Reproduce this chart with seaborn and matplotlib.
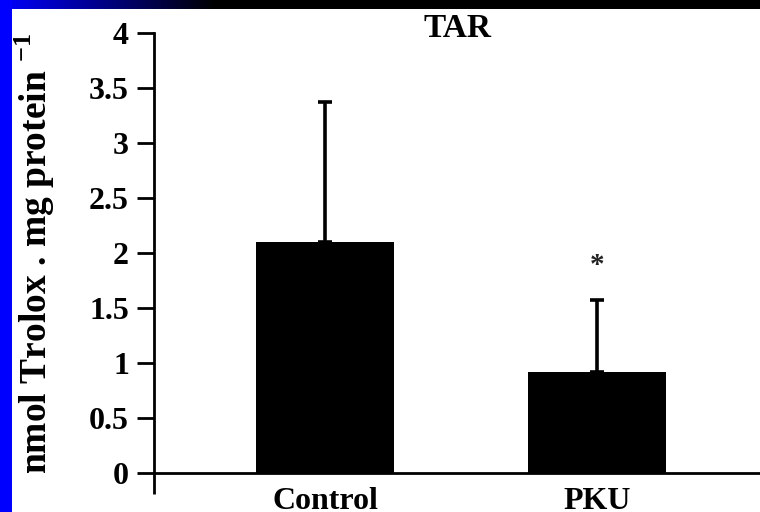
import numpy as np
import pandas as pd
import matplotlib
matplotlib.use("Agg")
import matplotlib.pyplot as plt
import seaborn as sns
from matplotlib.patches import Rectangle

categories = ["Control", "PKU"]
means = [2.1, 0.92]
errors = [1.27, 0.65]
yticks = [0, 0.5, 1, 1.5, 2, 2.5, 3, 3.5, 4]
ytick_labels = ["0", "0.5", "1", "1.5", "2", "2.5", "3", "3.5", "4"]
title = "TAR"
ylabel = "nmol Trolox . mg protein $^{\\mathbf{-1}}$"

sns.set_style("white")
plt.rcParams["font.family"] = ["Liberation Serif", "DejaVu Serif"]
plt.rcParams["font.weight"] = "bold"
plt.rcParams["mathtext.fontset"] = "custom"
plt.rcParams["mathtext.rm"] = "Liberation Serif:bold"
plt.rcParams["mathtext.bf"] = "Liberation Serif:bold"
for k in ["text.color", "axes.labelcolor", "xtick.color", "ytick.color"]:
    plt.rcParams[k] = "black"

W, H = 760, 512
fig = plt.figure(figsize=(W / 100, H / 100), dpi=100, facecolor="white")

# decorative frame: blue stripe on left, gradient band on top
fig.patches.append(Rectangle((0, 0), 12 / W, 1, transform=fig.transFigure,
                             facecolor=(0, 0, 1), edgecolor="none", zorder=0))
band = fig.add_axes([0, 1 - 9 / H, 1, 9 / H])
grad = np.zeros((1, W, 3))
xs = np.arange(W)
t = np.clip(xs / 215.0, 0, 1)
grad[0, :, 2] = 1 - t
band.imshow(grad, aspect="auto", extent=[0, W, 0, 1])
band.set_axis_off()

ax = fig.add_axes([154 / W, 39 / H, 1 - 154 / W, (473 - 33) / H])
df = pd.DataFrame({"group": categories, "value": means})
sns.barplot(data=df, x="group", y="value", color="black", width=0.507,
            saturation=1, errorbar=None, ax=ax, edgecolor="black", linewidth=0)
ax.errorbar(x=[0, 1], y=means, yerr=[[0, 0], errors], fmt="none",
            ecolor="black", elinewidth=2.6, capsize=5, capthick=2.6, zorder=3)
ax.text(1, 1.82, "*", ha="center", va="baseline", fontsize=21,
        fontweight="bold", color="#222222")

ax.set_xlim(-0.629, 1.6)
ax.set_ylim(0, 4)
ax.set_yticks(yticks)
ax.set_yticklabels(ytick_labels, fontsize=23, fontweight="bold")
ax.set_xticks([0, 1])
ax.set_xticklabels(categories, fontsize=23, fontweight="bold")
ax.tick_params(axis="x", length=0, pad=10)
ax.tick_params(axis="y", direction="out", length=12, width=2, pad=6, left=True)
ax.set_xticks([-0.629], minor=True)
ax.tick_params(axis="x", which="minor", direction="out", length=15, width=2, bottom=True)
ax.set_xlabel("")
ax.set_ylabel(ylabel, fontsize=27, fontweight="bold", labelpad=23)
ax.set_title(title, fontsize=24, fontweight="bold", pad=-3)
for s in ["top", "right"]:
    ax.spines[s].set_visible(False)
for s in ["left", "bottom"]:
    ax.spines[s].set_linewidth(2)
    ax.spines[s].set_color("black")
ax.set_facecolor("white")

fig.savefig("out.png", dpi=100, facecolor="white")
